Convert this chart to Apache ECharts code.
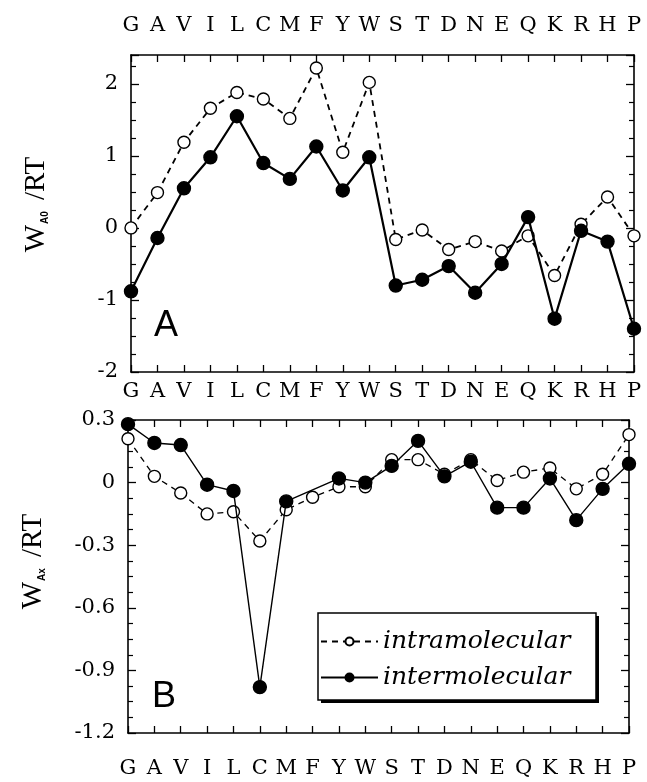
<!DOCTYPE html>
<html><head><meta charset="utf-8">
<script src="https://cdn.jsdelivr.net/npm/echarts@6/dist/echarts.min.js"></script>
<style>html,body{margin:0;padding:0;background:#fff}#c{width:647px;height:782px}</style>
</head><body><div id="c"></div>
<script>
const residues = ['G','A','V','I','L','C','M','F','Y','W','S','T','D','N','E','Q','K','R','H','P'];
const intraA0 = [0.00,0.49,1.19,1.66,1.88,1.79,1.52,2.22,1.05,2.02,-0.16,-0.03,-0.30,-0.19,-0.32,-0.11,-0.66,0.05,0.43,-0.11];
const interA0 = [-0.88,-0.14,0.55,0.98,1.55,0.90,0.68,1.13,0.52,0.98,-0.80,-0.72,-0.53,-0.90,-0.50,0.15,-1.26,-0.04,-0.19,-1.40];
const intraAx = [0.21,0.03,-0.05,-0.15,-0.14,-0.28,-0.13,-0.07,-0.02,-0.02,0.11,0.11,0.04,0.11,0.01,0.05,0.07,-0.03,0.04,0.23];
const interAx = [0.28,0.19,0.18,-0.01,-0.04,-0.98,-0.09,null,0.02,0.00,0.08,0.20,0.03,0.10,-0.12,-0.12,0.02,-0.18,-0.03,0.09];
const ticksA0 = [-2,-1,0,1,2];
const maxA0 = 2.4;
const ticksAx = [-1.2,-0.9,-0.6,-0.3,0,0.3];
const seriesNames = ['intramolecular','intermolecular'];

const serif = 'DejaVu Serif';
const black = '#000';

function xAxis(grid, pos, showLabel, margin) {
  return {
    type: 'category', gridIndex: grid, position: pos, data: residues, boundaryGap: false,
    axisLine: {show: true, onZero: false, lineStyle: {color: black, width: 1.6}},
    axisTick: {show: true, inside: true, length: 7, alignWithLabel: true, lineStyle: {color: black, width: 1.3}},
    axisLabel: {show: showLabel, margin: margin, color: black, fontFamily: serif, fontSize: 21, interval: 0},
    splitLine: {show: false}
  };
}
function yAxis(grid, pos, ticks, maxV, showLabel, fmt, name, nameGap, shift) {
  const interval = +(ticks[1] - ticks[0]).toFixed(6);
  return {
    type: 'value', gridIndex: grid, position: pos, min: ticks[0], max: maxV, interval: interval,
    axisLine: {show: true, onZero: false, lineStyle: {color: black, width: 1.6}},
    axisTick: {show: true, inside: true, length: 8, lineStyle: {color: black, width: 1.3}},
    minorTick: {show: true, splitNumber: 4, length: 5, lineStyle: {color: black, width: 1.2}},
    axisLabel: {show: showLabel, margin: 13, color: black, fontFamily: serif, fontSize: 21, formatter: fmt},
    splitLine: {show: false}, minorSplitLine: {show: false},
    name: name || '', nameLocation: 'middle', nameRotate: 90, nameGap: nameGap || 0,
    nameTextStyle: {
      color: black,
      padding: [0, 0, 0, shift || 0],
      rich: {
        w: {fontFamily: 'Liberation Serif', fontSize: 29, color: black},
        s: {fontFamily: 'Liberation Sans', fontSize: 10, fontWeight: 'bold', color: black, verticalAlign: 'bottom', padding: [0, 11, 1, 1]},
        r: {fontFamily: 'Liberation Serif', fontSize: 29, color: black}
      }
    }
  };
}
const fmtA0 = v => (Math.abs(v - Math.round(v)) > 1e-6 ? '' : String(Math.round(v)));
const fmtAx = v => (Math.abs(v) < 1e-9 ? '0' : v.toFixed(1));

function line(name, data, xi, yi, dashed, thick) {
  return {
    name: name, type: 'line', xAxisIndex: xi, yAxisIndex: yi, data: data, connectNulls: true,
    symbol: 'circle', symbolSize: dashed ? 12 : 13, z: dashed ? 2 : 3,
    lineStyle: {color: black, width: thick, type: dashed ? [6, 5] : 'solid'},
    itemStyle: {color: dashed ? '#fff' : black, borderColor: black, borderWidth: 1.4},
    emphasis: {disabled: true}, animation: false
  };
}

const chart = echarts.init(document.getElementById('c'), null, {renderer: 'canvas'});
chart.setOption({
  backgroundColor: '#fff',
  animation: false,
  grid: [
    {left: 131, right: 13, top: 55, height: 317},
    {left: 128, right: 18, top: 420, height: 313}
  ],
  xAxis: [
    xAxis(0, 'bottom', true, 9),
    xAxis(0, 'top', true, 19),
    xAxis(1, 'bottom', true, 25),
    xAxis(1, 'top', false, 8)
  ],
  yAxis: [
    yAxis(0, 'left', ticksA0, maxA0, true, fmtA0, '{w|W}{s|A0}{r|/RT}', 80, 18),
    yAxis(0, 'right', ticksA0, maxA0, false, fmtA0),
    yAxis(1, 'left', ticksAx, ticksAx[ticksAx.length - 1], true, fmtAx, '{w|W}{s|Ax}{r|/RT}', 80, 30),
    yAxis(1, 'right', ticksAx, ticksAx[ticksAx.length - 1], false, fmtAx)
  ],
  legend: {
    data: seriesNames, orient: 'vertical', left: 320, top: 629, selectedMode: false, z: 10,
    itemWidth: 57, itemHeight: 10, itemGap: 11, padding: 0,
    textStyle: {color: black, fontFamily: serif, fontStyle: 'italic', fontSize: 25}
  },
  graphic: [
    {type: 'rect', z: 5, shape: {x: 321, y: 616, width: 278, height: 87}, style: {fill: black}},
    {type: 'rect', z: 6, shape: {x: 318, y: 613, width: 278, height: 87}, style: {fill: '#fff', stroke: black, lineWidth: 1.5}},
    {type: 'text', left: 154, top: 308, style: {text: 'A', fontFamily: 'Liberation Sans', fontSize: 36, fill: black}},
    {type: 'text', left: 152, top: 679, style: {text: 'B', fontFamily: 'Liberation Sans', fontSize: 36, fill: black}}
  ],
  series: [
    line(seriesNames[0], intraA0, 0, 0, true, 1.8),
    line(seriesNames[1], interA0, 0, 0, false, 2.2),
    line(seriesNames[0], intraAx, 2, 2, true, 1.3),
    line(seriesNames[1], interAx, 2, 2, false, 1.4)
  ]
});
</script></body></html>
